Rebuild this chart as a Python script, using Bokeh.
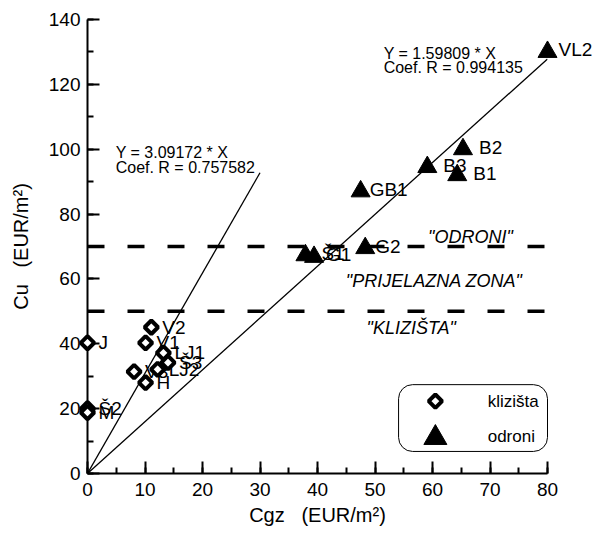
import numpy as np
from bokeh.plotting import figure
from bokeh.models import Range1d, SingleIntervalTicker, LinearAxis, ColumnDataSource, Quad
from bokeh.core.properties import value
from bokeh.embed import file_html
from bokeh.resources import INLINE

# --- data -------------------------------------------------------------
# klizišta (landslides) - open diamonds
kl_names = ["J", "Š2", "M", "V2", "V1", "LJ1", "Š3", "LJ2", "V3", "H"]
kl_cgz = [0, 0, 0, 11.1, 10.1, 13.2, 14.0, 12.2, 8.1, 10.1]
kl_cu = [40.3, 20.0, 18.8, 45.1, 40.3, 37.2, 34.2, 32.1, 31.4, 28.0]

# odroni (rockfalls) - filled triangles
od_names = ["VL2", "B2", "B3", "B1", "GB1", "G2", "Š1", "G1"]
od_cgz = [80, 65.3, 59.1, 64.3, 47.5, 48.3, 37.9, 39.4]
od_cu = [130, 100, 94.5, 92, 87, 69.5, 67.3, 66.8]
od_label_dx = [11, 16, 16, 16, 9, 10, 16, 12]

# regression through origin
slope_od, r_od = 1.59809, 0.994135
slope_kl, r_kl = 3.09172, 0.757582
fit_x_od = [0, 80]
fit_x_kl = [0, 30]

# zone thresholds
zone_limits = [70, 50]
zone_x = [0, 80]
zone_names = ['"ODRONI"', '"PRIJELAZNA ZONA"', '"KLIZIŠTA"']

legend_labels = ["klizišta", "odroni"]

FONT = value("Liberation Sans")
NB = "\u00a0"

p = figure(width=598, height=528, x_range=Range1d(0, 80), y_range=Range1d(0, 140),
           output_backend="svg", toolbar_location=None,
           x_axis_location=None, y_axis_location=None,
           min_border_left=87, min_border_right=51, min_border_top=19, min_border_bottom=51)
p.xgrid.visible = False
p.ygrid.visible = False
p.outline_line_color = None
p.background_fill_color = "white"
p.border_fill_color = "white"

xaxis = LinearAxis(ticker=SingleIntervalTicker(interval=10, num_minor_ticks=2),
                   axis_label=f"Cgz{NB}{NB}{NB}(EUR/m²)")
yaxis = LinearAxis(ticker=SingleIntervalTicker(interval=20, num_minor_ticks=2),
                   axis_label=f"Cu{NB}{NB}{NB}(EUR/m²)")
for ax in (xaxis, yaxis):
    ax.axis_line_width = 2
    ax.major_tick_line_width = 2
    ax.minor_tick_line_width = 2
    ax.major_tick_in = 12
    ax.major_tick_out = 0
    ax.minor_tick_in = 6
    ax.minor_tick_out = 0
    ax.major_label_text_font = "Liberation Sans"
    ax.major_label_text_font_size = "19px"
    ax.major_label_text_color = "black"
    ax.axis_label_text_font = "Liberation Sans"
    ax.axis_label_text_font_size = "20px"
    ax.axis_label_text_font_style = "normal"
    ax.axis_label_text_color = "black"
xaxis.major_label_standoff = 9
xaxis.axis_label_standoff = 5
yaxis.major_label_standoff = 7
yaxis.axis_label_standoff = 14
p.add_layout(xaxis, "below")
p.add_layout(yaxis, "left")

# zone boundary lines
for t in zone_limits:
    p.line(x=zone_x, y=[t, t], line_color="black", line_width=3.5, line_dash="17 23")

# regression lines
p.line(x=fit_x_od, y=[slope_od * v for v in fit_x_od], line_color="black", line_width=1.3)
p.line(x=fit_x_kl, y=[slope_kl * v for v in fit_x_kl], line_color="black", line_width=1.3)

# regression annotations
p.text(x=[4.9, 4.9], y=[99.0, 94.4],
       text=[f"Y = {slope_kl} * X", f"Coef. R = {r_kl}"],
       text_font=FONT, text_font_size="16px", text_baseline="middle", text_color="black")
p.text(x=[51.5, 51.5], y=[129.6, 125.2],
       text=[f"Y = {slope_od} * X", f"Coef. R = {r_od}"],
       text_font=FONT, text_font_size="16px", text_baseline="middle", text_color="black")

# zone labels
p.text(x=[66.6, 60.3, 56.3], y=[73.0, 59.5, 44.8], text=zone_names,
       text_font=FONT, text_font_size="18px", text_font_style="italic",
       text_align="center", text_baseline="middle", text_color="black")

kl_src = ColumnDataSource(dict(x=kl_cgz, y=kl_cu, name=kl_names))
od_src = ColumnDataSource(dict(x=od_cgz, y=od_cu, name=od_names, dx=od_label_dx))

p.text(x="x", y="y", text="name", source=kl_src, x_offset=11,
       text_font=FONT, text_font_size="19px", text_baseline="middle",
       text_color="black", level="overlay")
p.text(x="x", y="y", text="name", source=od_src, x_offset="dx", y_offset=-2,
       text_font=FONT, text_font_size="19px", text_baseline="middle",
       text_color="black", level="overlay")

p.scatter(x="x", y="y", source=kl_src, marker="square", angle=np.pi / 4, size=9.5,
          fill_color="white", line_color="black", line_width=4, level="overlay")
p.scatter(x="x", y="y", source=od_src, marker="triangle", size=19,
          fill_color="black", line_color="black", level="overlay")

# legend (rounded box)
box_kw = dict(left=54.1, right=80, bottom=6.8, top=27.4, fill_color="white",
              line_color="black", line_width=1, level="overlay")
if "border_radius" in Quad.properties():
    box_kw["border_radius"] = 14
p.quad(**box_kw)
p.scatter(x=[60.5], y=[22.3], marker="square", angle=np.pi / 4, size=9.5,
          fill_color="white", line_color="black", line_width=4, level="overlay")
p.scatter(x=[60.5], y=[11.0], marker="triangle", size=23,
          fill_color="black", line_color="black", level="overlay")
p.text(x=[69.6, 69.6], y=[22.3, 11.4], text=legend_labels, text_font=FONT,
       text_font_size="17px", text_baseline="middle", text_color="black", level="overlay")

open("out.html", "w").write(file_html(p, INLINE))
